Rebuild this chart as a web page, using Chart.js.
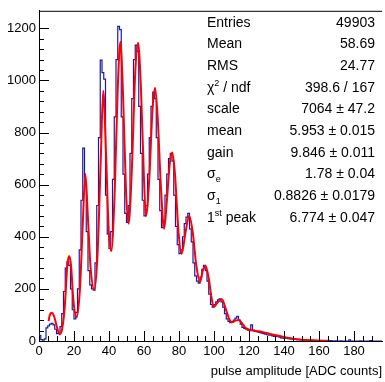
<!DOCTYPE html>
<html>
<head>
<meta charset="utf-8">
<script src="https://cdn.jsdelivr.net/npm/chart.js@4.4.1/dist/chart.umd.min.js"></script>
<style>
  html, body { margin: 0; padding: 0; background: #fff; }
  #wrap { position: relative; width: 385px; height: 382px; }
  #stats {
    position: absolute; left: 207px; top: 11.6px; width: 168px;
    font-family: "Liberation Sans", Arial, sans-serif; font-size: 14px; color: #000;
  }
  #stats .row { display: flex; justify-content: space-between; height: 21.7px; line-height: 21.7px; white-space: nowrap; }
  #stats sup, #stats sub { font-size: 9px; line-height: 0; }
</style>
</head>
<body>
<div id="wrap">
  <canvas id="spectrum" width="385" height="382"></canvas>
  <div id="stats">
    <div class="row"><span>Entries</span><span>49903</span></div>
    <div class="row"><span>Mean</span><span>58.69</span></div>
    <div class="row"><span>RMS</span><span>24.77</span></div>
    <div class="row"><span>&chi;<sup>2</sup> / ndf</span><span>398.6 / 167</span></div>
    <div class="row"><span>scale</span><span>7064 &plusmn; 47.2</span></div>
    <div class="row"><span>mean</span><span>5.953 &plusmn; 0.015</span></div>
    <div class="row"><span>gain</span><span>9.846 &plusmn; 0.011</span></div>
    <div class="row"><span>&sigma;<sub>e</sub></span><span>1.78 &plusmn; 0.04</span></div>
    <div class="row"><span>&sigma;<sub>1</sub></span><span>0.8826 &plusmn; 0.0179</span></div>
    <div class="row"><span>1<sup>st</sup> peak</span><span>6.774 &plusmn; 0.047</span></div>
  </div>
</div>
<script>
// histogram contents, one value per 1 ADC-count bin starting at 0
const histCounts = [
  40, 22, 5, 3, 8, 50, 58, 65, 68, 62,
  45, 28, 30, 55, 105, 190, 280, 305, 290, 200,
  120, 85, 110, 200, 350, 540, 740, 610, 420, 270,
  215, 200, 195, 300, 520, 780, 1078, 1030, 1005, 560,
  410, 355, 420, 620, 860, 1080, 1207, 1195, 860, 640,
  490, 455, 520, 720, 930, 1080, 1135, 1110, 900, 720,
  540, 480, 520, 640, 780, 900, 955, 930, 780, 620,
  500, 435, 460, 560, 640, 700, 720, 690, 560, 440,
  370, 335, 350, 400, 450, 475, 490, 430, 380, 300,
  250, 230, 222, 245, 275, 290, 270, 230, 180, 140,
  130, 140, 150, 158, 162, 150, 130, 105, 85, 75,
  70, 72, 80, 88, 95, 80, 65, 52, 48, 45,
  42, 40, 62, 42, 38, 36, 34, 32, 30, 28,
  26, 24, 22, 22, 20, 18, 17, 20, 15, 12,
  11, 10, 12, 9, 8, 7, 8, 6, 5, 6,
  4, 5, 3, 4, 3, 2, 3, 2, 2, 1,
  2, 1, 1, 2, 1, 0, 1, 2, 1, 0,
  1, 0, 0, 1, 0, 0, 0, 0, 4, 0,
  0, 0, 0, 0, 1, 0, 0, 0, 0, 0,
  2, 0, 0, 0, 0, 0
];

// fit curve
const fitX = [
  5.5, 6, 7.2, 8.6, 10.2, 11.7, 13.2, 14.7, 16.2, 17.2, 18.3, 19.6,
  21.5, 23.4, 24.9, 26.5, 27.9, 29.5, 31.7, 33.5, 35.3, 36.7, 38.3, 39.8,
  41.3, 43.2, 44.9, 46.5, 48.0, 49.7, 51.2, 53.0, 55.0, 56.6, 58.2, 59.9,
  61.1, 63.0, 64.8, 66.3, 67.8, 69.6, 71.5, 73.1, 74.7, 76.2, 77.7, 79.7,
  81.5, 83.8, 85.8, 87.8, 89.9, 92.0, 93.6, 95.2, 97.0, 98.5, 99.9, 102.1,
  104.6, 106.6, 108.7, 110.4, 112.2, 114.1, 115.8, 117.8, 119.8, 123, 127.5, 132,
  137, 142, 146, 152, 159, 166
];
const fitY = [
  76, 95, 108, 95, 55, 26, 45, 130, 290, 326, 290, 160,
  91, 200, 430, 641, 480, 280, 197, 340, 700, 960, 720, 430,
  345, 560, 950, 1148, 950, 580, 450, 650, 1030, 1144, 980, 640,
  479, 620, 880, 972, 860, 600, 431, 540, 680, 723, 640, 420,
  335, 420, 481, 420, 290, 226, 270, 289, 240, 170, 131, 148,
  160, 125, 85, 72, 78, 81, 70, 52, 44, 39, 35, 27,
  20, 13, 8, 4, 2, 0.5
];

const xTickLabels = [0, 20, 40, 60, 80, 100, 120, 140, 160, 180];
const yTickLabels = [0, 200, 400, 600, 800, 1000, 1200];
const xRange = [0, 196];
const yRange = [0, 1267];

const histPoints = histCounts.map((c, i) => ({ x: i, y: c }));
histPoints.push({ x: histCounts.length, y: histCounts[histCounts.length - 1] });
const fitPoints = fitX.map((x, i) => ({ x: x, y: fitY[i] }));

const labelFont = { family: '"Liberation Sans", Arial, sans-serif', size: 13 };

// ROOT style ticks pointing into the frame
const innerTicks = {
  id: 'innerTicks',
  afterDatasetsDraw(chart) {
    const { ctx, chartArea: a, scales: { x, y } } = chart;
    ctx.save();
    ctx.strokeStyle = '#000';
    ctx.lineWidth = 1;
    ctx.beginPath();
    x.ticks.forEach(t => {
      if (t.value % 5 !== 0 || t.value <= 0) return;
      const px = Math.round(x.getPixelForValue(t.value)) + 0.5;
      const len = t.value % 20 === 0 ? 10 : 5;
      ctx.moveTo(px, a.bottom);
      ctx.lineTo(px, a.bottom - len);
    });
    y.ticks.forEach(t => {
      if (t.value % 40 !== 0 || t.value <= 0) return;
      const py = Math.round(y.getPixelForValue(t.value)) + 0.5;
      const len = t.value % 200 === 0 ? 10 : 5;
      ctx.moveTo(a.left, py);
      ctx.lineTo(a.left + len, py);
    });
    ctx.moveTo(a.left, a.top + 0.5);
    ctx.lineTo(a.right, a.top + 0.5);
    ctx.stroke();
    ctx.restore();
  }
};

const ctx = document.getElementById('spectrum').getContext('2d');
new Chart(ctx, {
  type: 'line',
  data: {
    datasets: [
      {
        label: 'fit',
        data: fitPoints,
        borderColor: '#ff0000',
        borderWidth: 2,
        pointRadius: 0,
        cubicInterpolationMode: 'monotone',
        fill: false
      },
      {
        label: 'histogram',
        data: histPoints,
        borderColor: '#1818b0',
        borderWidth: 1.2,
        pointRadius: 0,
        stepped: 'after',
        fill: false
      }
    ]
  },
  options: {
    responsive: false,
    animation: false,
    layout: { padding: { top: 3, right: 1, left: 0, bottom: 0 } },
    plugins: { legend: { display: false }, tooltip: { enabled: false } },
    scales: {
      x: {
        type: 'linear',
        min: xRange[0],
        max: xRange[1],
        afterFit(s) { s.height = 41; },
        grid: { display: false, drawTicks: false },
        border: { display: true, color: '#000', width: 1 },
        ticks: {
          stepSize: 5, autoSkip: false, maxRotation: 0, padding: 3,
          color: '#000', font: labelFont,
          callback: v => xTickLabels.includes(v) ? String(v) : ''
        },
        title: {
          display: true, text: 'pulse amplitude [ADC counts]', align: 'end',
          color: '#000', font: labelFont, padding: { top: 0, bottom: 3 }
        }
      },
      y: {
        type: 'linear',
        min: yRange[0],
        max: yRange[1],
        afterFit(s) { s.width = 39; },
        grid: { display: false, drawTicks: false },
        border: { display: true, color: '#000', width: 1 },
        ticks: {
          stepSize: 40, autoSkip: false, padding: 3,
          color: '#000', font: labelFont,
          callback: v => yTickLabels.includes(v) ? String(v) : ''
        }
      }
    }
  },
  plugins: [innerTicks]
});
</script>
</body>
</html>
